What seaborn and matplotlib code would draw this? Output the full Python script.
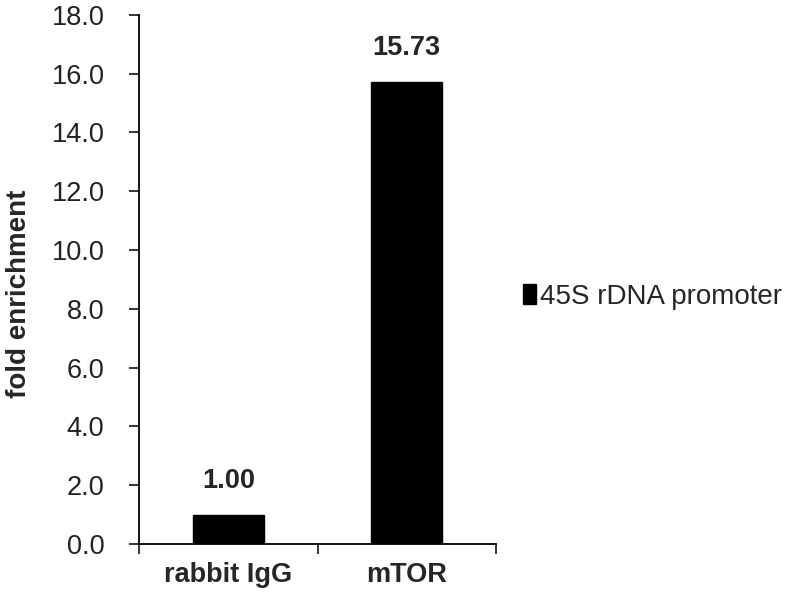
import numpy as np
import matplotlib
matplotlib.use("Agg")
import matplotlib.pyplot as plt
import seaborn as sns
from matplotlib.patches import Patch

# data
categories = ["rabbit IgG", "mTOR"]
values = [1.00, 15.73]
value_labels = ["1.00", "15.73"]
series_name = "45S rDNA promoter"
yticks = np.arange(0, 18.1, 2.0)

sns.set_style("ticks")
plt.rcParams['font.family'] = ['Liberation Sans', 'DejaVu Sans']

fig = plt.figure(figsize=(8, 6), dpi=100)
ax = fig.add_axes([0.174, 0.0933, 0.446, 0.882])

sns.barplot(x=categories, y=values, color="black", width=0.4, ax=ax,
            saturation=1, edgecolor="black")

# value labels above bars
for i, (v, lab) in enumerate(zip(values, value_labels)):
    ax.annotate(lab, (i, v), xytext=(0, 15), textcoords="offset points",
                ha="center", va="bottom", fontsize=19.5, fontweight="bold")

ax.set_xlim(-0.5, 1.5)
ax.set_ylim(0, 18)
ax.set_yticks(yticks)
ax.set_yticklabels([f"{t:.1f}" for t in yticks], fontsize=19.5, color="#222222")
ax.set_xticks([0, 1])
ax.set_xticklabels(categories, fontsize=19.5, fontweight="bold")
ax.set_xticks([-0.5, 0.5, 1.5], minor=True)
ax.tick_params(axis="x", which="major", length=0, pad=13)
ax.tick_params(axis="x", which="minor", length=7, width=1.3, direction="out")
ax.tick_params(axis="y", length=7, width=1.3, direction="out", pad=18)
ax.set_ylabel("fold enrichment", fontsize=20, fontweight="bold")
ax.yaxis.set_label_coords(-0.30, 0.473)
for s in ["top", "right"]:
    ax.spines[s].set_visible(False)
for s in ["left", "bottom"]:
    ax.spines[s].set_linewidth(1.3)
    ax.spines[s].set_color("black")

handle = Patch(facecolor="black", edgecolor="black")
fig.legend([handle], [series_name], loc="center left",
           bbox_to_anchor=(0.654, 0.505), frameon=False, fontsize=20,
           handlelength=0.45, handleheight=0.75, handletextpad=0.15,
           borderpad=0, borderaxespad=0)

fig.savefig("out.png", dpi=100)
